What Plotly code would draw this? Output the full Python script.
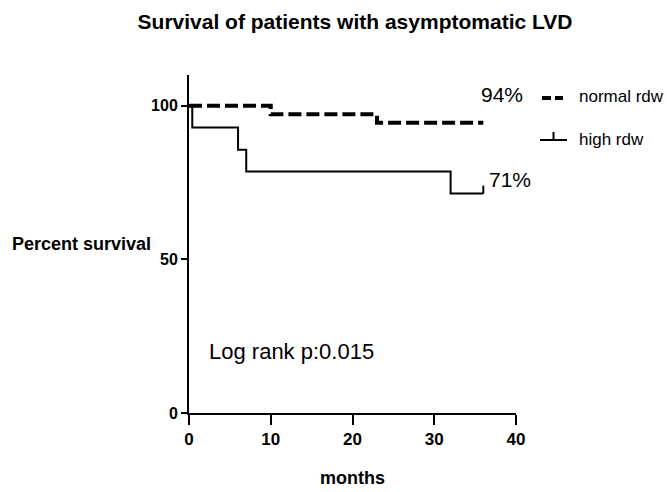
import plotly.graph_objects as go

# Kaplan-Meier step data (months, percent surviving)
normal_time = [0, 10, 23, 36]
normal_surv = [100, 97.2, 94.5, 94.5]

high_time = [0, 0.4, 6, 7, 32, 36]
high_surv = [100, 92.9, 85.7, 78.6, 71.4, 71.4]

# censored observation at end of follow-up for the high-rdw group
high_censor_time = [36]
high_censor_surv = [71.4]

x_ticks = [0, 10, 20, 30, 40]
y_ticks = [0, 50, 100]

series_names = ["normal rdw", "high rdw"]

FONT = "Liberation Sans Narrow, Arial Narrow, Liberation Sans, Arial, sans-serif"

fig = go.Figure()

fig.add_trace(go.Scatter(
    x=normal_time, y=normal_surv, mode="lines", line_shape="hv",
    line=dict(color="black", width=4, dash="13px,5px"),
    name=series_names[0], showlegend=False,
))
fig.add_trace(go.Scatter(
    x=high_time, y=high_surv, mode="lines", line_shape="hv",
    line=dict(color="black", width=2),
    name=series_names[1], showlegend=False,
))
# censor tick: short upward stroke drawn as a one-sided error bar
fig.add_trace(go.Scatter(
    x=high_censor_time, y=high_censor_surv, mode="markers",
    marker=dict(size=1, color="rgba(0,0,0,0)"),
    error_y=dict(type="data", symmetric=False, array=[2.6], arrayminus=[0],
                 color="black", thickness=2, width=0),
    showlegend=False, hoverinfo="skip",
))

# value labels and test statistic
fig.add_annotation(x=38.3, y=103.6, text="94%", showarrow=False,
                   xanchor="center", yanchor="middle",
                   font=dict(family=FONT, size=21, color="black"))
fig.add_annotation(x=36.45, y=76.1, text="71%", showarrow=False,
                   xanchor="left", yanchor="middle",
                   font=dict(family=FONT, size=21, color="black"))
fig.add_annotation(x=2.2, y=19.9, text="Log rank p:0.015", showarrow=False,
                   xanchor="left", yanchor="middle",
                   font=dict(family=FONT, size=22, color="black"))

# axis titles
fig.add_annotation(xref="paper", yref="paper", x=-0.547, y=0.5,
                   text="<b>Percent survival</b>", showarrow=False,
                   xanchor="left", yanchor="middle",
                   font=dict(family=FONT, size=18, color="black"))
fig.add_annotation(xref="paper", yref="paper", x=0.5, y=-0.192,
                   text="<b>months</b>", showarrow=False,
                   xanchor="center", yanchor="middle",
                   font=dict(family=FONT, size=18, color="black"))

# legend drawn beside the plot
fig.add_shape(type="line", xref="paper", yref="paper",
              x0=1.0795, x1=1.1437, y0=0.932, y1=0.932,
              line=dict(color="black", width=4, dash="9px,4px"))
fig.add_shape(type="line", xref="paper", yref="paper",
              x0=1.0734, x1=1.156, y0=0.8077, y1=0.8077,
              line=dict(color="black", width=2))
fig.add_shape(type="line", xref="paper", yref="paper",
              x0=1.1147, x1=1.1147, y0=0.8077, y1=0.8314,
              line=dict(color="black", width=2))
fig.add_annotation(xref="paper", yref="paper", x=1.1865, y=0.935,
                   text=series_names[0], showarrow=False,
                   xanchor="left", yanchor="middle",
                   font=dict(family=FONT, size=17, color="black"))
fig.add_annotation(xref="paper", yref="paper", x=1.1865, y=0.81,
                   text=series_names[1], showarrow=False,
                   xanchor="left", yanchor="middle",
                   font=dict(family=FONT, size=17, color="black"))

fig.update_layout(
    width=667, height=492,
    margin=dict(l=189, r=151, t=75, b=79),
    paper_bgcolor="white", plot_bgcolor="white",
    font=dict(family=FONT, color="black"),
    showlegend=False,
    title=dict(text="<b>Survival of patients with asymptomatic LVD</b>",
               x=355 / 667, xanchor="center", y=0.955, yanchor="middle",
               font=dict(family=FONT, size=21, color="black")),
    xaxis=dict(range=[0, 40], tickvals=x_ticks,
               ticktext=[f"<b>{v}</b>" for v in x_ticks],
               showgrid=False, zeroline=False,
               showline=True, linecolor="black", linewidth=2,
               ticks="outside", ticklen=10, tickwidth=2, tickcolor="black",
               tickfont=dict(family=FONT, size=17, color="black")),
    yaxis=dict(range=[0, 110], tickvals=y_ticks,
               ticktext=[f"<b>{v}</b>" for v in y_ticks],
               showgrid=False, zeroline=False,
               showline=True, linecolor="black", linewidth=2,
               ticks="outside", ticklen=6, tickwidth=2, tickcolor="black",
               tickfont=dict(family=FONT, size=16, color="black")),
)

fig.write_html("out.html")
